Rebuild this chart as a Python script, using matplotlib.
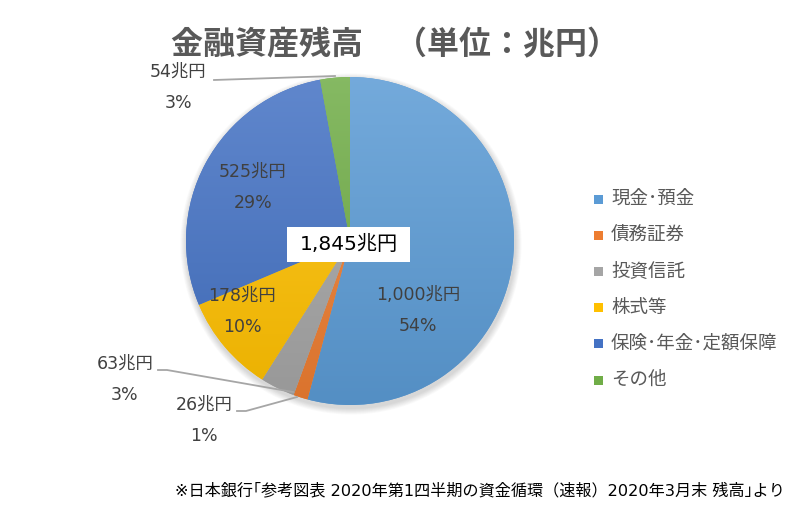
import numpy as np
import matplotlib
matplotlib.use("Agg")
import matplotlib.pyplot as plt
from matplotlib.colors import to_rgb
from matplotlib.patches import Rectangle

plt.rcParams['font.family'] = ['Noto Sans CJK JP', 'DejaVu Sans']
MIX = ['DejaVu Sans', 'Noto Sans CJK JP']

categories = ['現金･預金', '債務証券', '投資信託', '株式等', '保険･年金･定額保障', 'その他']
values = [1000, 26, 63, 178, 525, 54]
value_labels = ['1,000兆円', '26兆円', '63兆円', '178兆円', '525兆円', '54兆円']
pct_labels = ['54%', '1%', '3%', '10%', '29%', '3%']
colors = ['#5B9BD5', '#ED7D31', '#A5A5A5', '#FFC000', '#4472C4', '#70AD47']
title = '金融資産残高　（単位：兆円）'
total_label = '1,845兆円'
source = '※日本銀行｢参考図表 2020年第1四半期の資金循環（速報）2020年3月末 残高｣より'

W, H = 800, 507
fig = plt.figure(figsize=(W / 100, H / 100), dpi=100)
ax = fig.add_axes([0, 0, 1, 1])
ax.set_xlim(0, W)
ax.set_ylim(0, H)
ax.axis('off')

def Y(y):
    return H - y

cx, cy, R = 350, Y(241), 164

# soft shadow
for i in range(8):
    sh = plt.Circle((cx + 1, cy - 3), R + 1 + i * 0.8, color='black', alpha=0.018, zorder=0.5, lw=0)
    ax.add_patch(sh)

wedges, _ = ax.pie(values, startangle=90, counterclock=False, center=(cx, cy), radius=R,
                   colors=colors, wedgeprops=dict(linewidth=0), frame=False)
ax.set_xlim(0, W)
ax.set_ylim(0, H)
ax.set_aspect('equal')

def lighten(c, f):
    c = np.array(to_rgb(c))
    return c + (1 - c) * f

def darken(c, f):
    c = np.array(to_rgb(c))
    return c * (1 - f)

grad = np.linspace(0, 1, 256)[:, None]
for w, c in zip(wedges, colors):
    top = lighten(c, 0.15)
    bot = darken(c, 0.08)
    img = top[None, None, :] * (1 - grad[:, :, None]) + bot[None, None, :] * grad[:, :, None]
    img = np.repeat(img, 2, axis=1)
    im = ax.imshow(img, extent=(cx - R, cx + R, cy - R, cy + R), origin='upper', zorder=2,
                   interpolation='bilinear', aspect='auto')
    im.set_clip_path(w)
ax.set_xlim(0, W)
ax.set_ylim(0, H)

lab_col = '#404040'
fs = 12.5
# inside labels
inside = {0: (418, 295), 3: (242, 296), 4: (253, 172)}
for i, (x, y) in inside.items():
    ax.text(x, Y(y), value_labels[i], ha='center', va='center', fontsize=fs, color=lab_col, zorder=5, family=MIX)
    ax.text(x, Y(y + 31), pct_labels[i], ha='center', va='center', fontsize=fs, color=lab_col, zorder=5, family=MIX)

# outside labels
outside = {5: (178, 72), 2: (125, 364), 1: (204, 405)}
for i, (x, y) in outside.items():
    ax.text(x, Y(y), value_labels[i], ha='center', va='center', fontsize=fs, color=lab_col, zorder=5, family=MIX)
    ax.text(x, Y(y + 31), pct_labels[i], ha='center', va='center', fontsize=fs, color=lab_col, zorder=5, family=MIX)

lc = '#A6A6A6'
ax.plot([214, 335], [Y(80), Y(76)], color=lc, lw=1.3, zorder=4)
ax.plot([158, 167, 293], [Y(370), Y(370), Y(392)], color=lc, lw=1.3, zorder=4)
ax.plot([237, 246, 297], [Y(411), Y(411), Y(397)], color=lc, lw=1.3, zorder=4)

# center total box
ax.add_patch(Rectangle((287, Y(262)), 123, 35, facecolor='white', edgecolor='none', zorder=6))
ax.text(348.5, Y(244), total_label, ha='center', va='center', fontsize=14.5, color='black', zorder=7, family=MIX)

# title
ax.text(395, Y(45), title, ha='center', va='center', fontsize=23, fontweight='bold', color='#595959')

# legend
ly0, dy = 199, 36.2
for k, (cat, c) in enumerate(zip(categories, colors)):
    y = ly0 + k * dy
    ax.add_patch(Rectangle((594, Y(y) - 4.5), 9, 9, facecolor=c, edgecolor='none'))
    ax.text(611, Y(y), cat, ha='left', va='center', fontsize=13.3, color='#595959')

# source
ax.text(785, Y(490), source, ha='right', va='center', fontsize=11.6, color='black', family=MIX)

fig.savefig('out.png', dpi=100, facecolor='white')
